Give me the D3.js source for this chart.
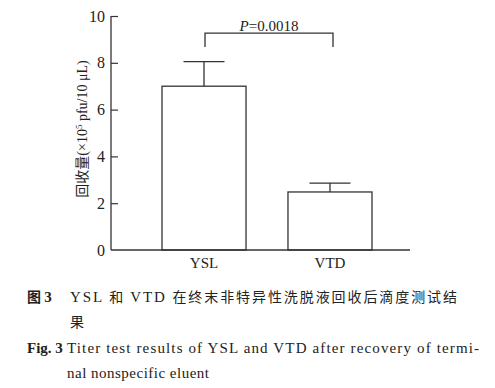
<!DOCTYPE html>
<html>
<head>
<meta charset="utf-8">
<script src="https://cdn.jsdelivr.net/npm/d3@7"></script>
<style>
body { margin: 0; background: #fff; }
text { font-family: "Liberation Serif", "Times New Roman", serif; fill: #222; }
.cjk { font-family: "Noto Sans CJK SC", sans-serif; }
</style>
</head>
<body>
<script>
var width = 495;
var height = 388;

// data
var groups = ["YSL", "VTD"];
var means = [7.0, 2.48];
var errs = [1.05, 0.38];
var yTicks = [0, 2, 4, 6, 8, 10];
var pLabel = "0.0018";

var svg = d3.select("body")
    .append("svg")
    .attr("width", width)
    .attr("height", height);

var y = d3.scaleLinear().domain([0, 10]).range([250, 16]);
var x = d3.scaleBand().domain(groups).range([162, 372]).paddingInner(0.333).paddingOuter(0);

var ink = "#333";

// y axis, ticks pointing inward
var yAxis = svg.append("g")
    .attr("transform", "translate(111,0)")
    .call(d3.axisRight(y).tickValues(yTicks).tickSize(7).tickFormat(""));
yAxis.select(".domain").attr("stroke", ink).attr("stroke-width", 1.3).attr("d", "M0," + y(10) + "V" + y(0));
yAxis.selectAll(".tick line").attr("stroke", ink).attr("stroke-width", 1.2);
yAxis.selectAll(".tick").filter(function(d) { return d === 0; }).select("line").remove();

svg.selectAll("text.ytick")
    .data(yTicks)
    .enter().append("text")
    .attr("class", "ytick")
    .attr("x", 105)
    .attr("y", function(d) { return y(d) + 5.5; })
    .attr("text-anchor", "end")
    .style("font-size", "16px")
    .text(function(d) { return d; });

// x axis line
svg.append("line")
    .attr("x1", 111).attr("x2", 410)
    .attr("y1", y(0)).attr("y2", y(0))
    .attr("stroke", ink).attr("stroke-width", 1.3);

// bars
svg.selectAll("rect.bar")
    .data(groups)
    .enter().append("rect")
    .attr("class", "bar")
    .attr("x", function(d) { return x(d); })
    .attr("width", x.bandwidth())
    .attr("y", function(d, i) { return y(means[i]); })
    .attr("height", function(d, i) { return y(0) - y(means[i]); })
    .attr("fill", "none")
    .attr("stroke", ink)
    .attr("stroke-width", 1.3);

// error bars
var capW = 41;
groups.forEach(function(g, i) {
    var cx = x(g) + x.bandwidth() / 2;
    svg.append("line")
        .attr("x1", cx).attr("x2", cx)
        .attr("y1", y(means[i])).attr("y2", y(means[i] + errs[i]))
        .attr("stroke", ink).attr("stroke-width", 1.3);
    svg.append("line")
        .attr("x1", cx - capW / 2).attr("x2", cx + capW / 2)
        .attr("y1", y(means[i] + errs[i])).attr("y2", y(means[i] + errs[i]))
        .attr("stroke", ink).attr("stroke-width", 1.3);
});

// x labels
svg.selectAll("text.xlab")
    .data(groups)
    .enter().append("text")
    .attr("class", "xlab")
    .attr("x", function(d) { return x(d) + x.bandwidth() / 2; })
    .attr("y", 268)
    .attr("text-anchor", "middle")
    .style("font-size", "15px")
    .text(function(d) { return d; });

// significance bracket
var bx1 = x(groups[0]) + x.bandwidth() / 2 + 1;
var bx2 = x(groups[1]) + x.bandwidth() / 2 + 3;
var bTop = y(9.27), bEnd = y(8.67);
svg.append("path")
    .attr("d", "M" + bx1 + "," + bEnd + "V" + bTop + "H" + bx2 + "V" + bEnd)
    .attr("fill", "none")
    .attr("stroke", ink)
    .attr("stroke-width", 1.3);
var pt = svg.append("text")
    .attr("x", (bx1 + bx2) / 2)
    .attr("y", 31)
    .attr("text-anchor", "middle")
    .style("font-size", "15px");
pt.append("tspan").style("font-style", "italic").text("P");
pt.append("tspan").text("=" + pLabel);

// y axis label
var yl = svg.append("text")
    .attr("transform", "translate(87,129) rotate(-90)")
    .attr("text-anchor", "middle")
    .style("font-size", "14px");
yl.append("tspan").attr("class", "cjk").text("回收量");
yl.append("tspan").text("(×10");
yl.append("tspan").attr("dy", -5).style("font-size", "9px").text("5");
yl.append("tspan").attr("dy", 5).text(" pfu/10 μL)");

// caption
var cap1 = svg.append("text").attr("x", 27).attr("y", 302).style("font-size", "14px");
cap1.append("tspan").attr("class", "cjk").style("font-weight", "bold").text("图 ");
cap1.append("tspan").style("font-weight", "bold").style("font-size", "15px").text("3");
var cap1b = svg.append("text").attr("x", 70).attr("y", 302).style("font-size", "14px")
    .attr("textLength", 387).attr("lengthAdjust", "spacing");
cap1b.append("tspan").style("font-size", "15px").text("YSL ");
cap1b.append("tspan").attr("class", "cjk").text("和 ");
cap1b.append("tspan").style("font-size", "15px").text("VTD ");
cap1b.append("tspan").attr("class", "cjk").text("在终末非特异性洗脱液回收后滴度测试结");
svg.append("text").attr("x", 70).attr("y", 327).style("font-size", "14px")
    .attr("class", "cjk").text("果");

svg.append("text").attr("x", 27).attr("y", 353).style("font-size", "15px")
    .style("font-weight", "bold").text("Fig. 3");
svg.append("text").attr("x", 67).attr("y", 353).style("font-size", "15px")
    .attr("textLength", 412).attr("lengthAdjust", "spacing")
    .text("Titer test results of YSL and VTD after recovery of termi-");
svg.append("text").attr("x", 67).attr("y", 378).style("font-size", "15px")
    .attr("textLength", 142).attr("lengthAdjust", "spacing")
    .text("nal nonspecific eluent");
</script>
</body>
</html>
